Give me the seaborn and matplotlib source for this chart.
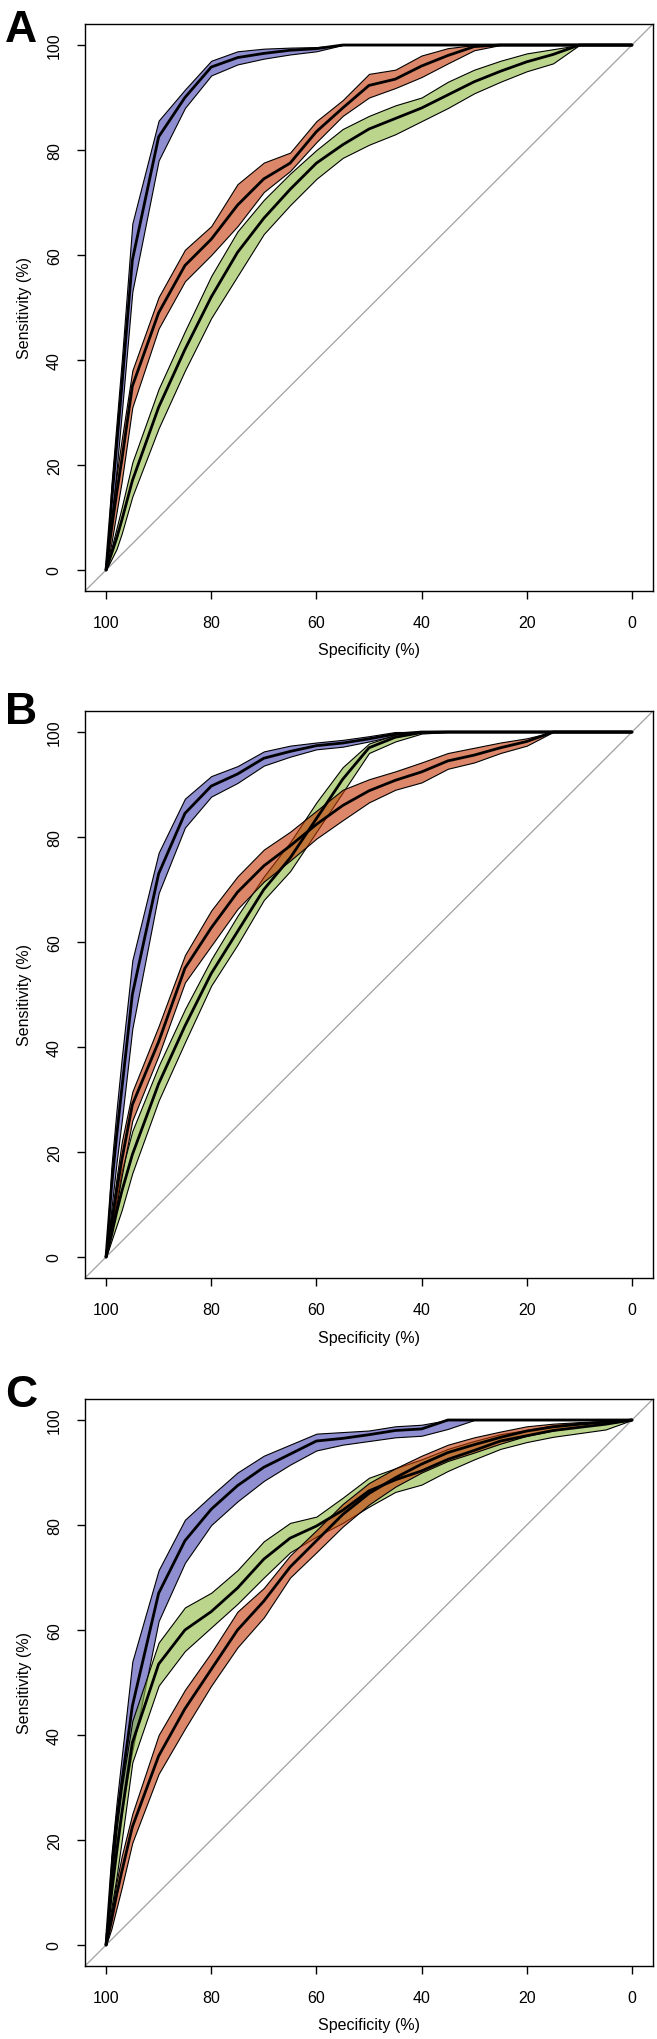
import matplotlib
matplotlib.use("Agg")
import matplotlib.pyplot as plt
import seaborn as sns

# specificity grid (%) used for the CI bands and the ROC curves
spec = [100, 99, 98, 97, 95, 90, 85, 80, 75, 70, 65, 60,
        55, 50, 45, 40, 35, 30, 25, 20, 15, 10, 5, 0]

# ---- panel A ----
a_blue_lo = [0, 9, 19, 30, 53, 78, 88, 94.2, 96.3, 97.4, 98.2, 98.8,
             100, 100, 100, 100, 100, 100, 100, 100, 100, 100, 100, 100]
a_blue_hi = [0, 16, 28, 40, 66, 85.6, 91.5, 97, 98.8, 99.3, 99.5, 99.6,
             100, 100, 100, 100, 100, 100, 100, 100, 100, 100, 100, 100]
a_blue_roc = [0, 12.5, 23.5, 35, 59, 82.5, 90, 95.8, 97.6, 98.4, 99, 99.3,
              100, 100, 100, 100, 100, 100, 100, 100, 100, 100, 100, 100]

a_orange_lo = [0, 5, 11, 17, 31, 46, 55, 60, 65.5, 72, 76, 81.5,
               86.5, 90, 91.8, 93.9, 96.5, 99, 100, 100, 100, 100, 100, 100]
a_orange_hi = [0, 10, 18, 25, 38, 52, 61, 65.5, 73.5, 77.6, 79.5, 85.5,
               89.5, 94.5, 95.3, 98, 99.4, 100, 100, 100, 100, 100, 100, 100]
a_orange_roc = [0, 7.5, 14.5, 21, 35, 49, 58, 63, 69.5, 74.5, 77.5, 83.5,
                88, 92.3, 93.5, 96, 98, 99.7, 100, 100, 100, 100, 100, 100]

a_green_lo = [0, 2, 4, 7, 14, 27, 38, 48, 56, 64, 69.5, 74.5,
              78.5, 81, 83, 85.5, 88, 90.8, 93, 95, 96.5, 100, 100, 100]
a_green_hi = [0, 4, 8, 12, 20.5, 34.5, 45.5, 56, 64.5, 70.5, 75.5, 80,
              84, 86.5, 88.5, 90, 93, 95.3, 97, 98.4, 99.2, 100, 100, 100]
a_green_roc = [0, 3, 6, 9.5, 17, 31, 42, 52, 60.5, 67, 72.5, 77.5,
               81, 84, 86, 88, 90.5, 93, 95, 96.8, 98.2, 100, 100, 100]

# ---- panel B ----
b_blue_lo = [0, 9, 18, 26, 43.5, 69.3, 81.8, 87.7, 90.3, 93.6, 95.3, 96.7,
             97.2, 98.2, 99.3, 100, 100, 100, 100, 100, 100, 100, 100, 100]
b_blue_hi = [0, 17, 28, 38, 56.5, 77, 87.3, 91.6, 93.5, 96.3, 97.4, 98,
             98.5, 99.2, 100, 100, 100, 100, 100, 100, 100, 100, 100, 100]
b_blue_roc = [0, 13, 23, 32, 50, 73, 84.5, 89.7, 92, 95, 96.3, 97.4,
              97.9, 98.7, 99.6, 100, 100, 100, 100, 100, 100, 100, 100, 100]

b_orange_lo = [0, 5, 10, 15.5, 26, 38.4, 52.3, 59.3, 66.3, 71.5, 75.5, 79.7,
               83.2, 86.6, 89, 90.4, 93, 94.2, 96, 97.4, 100, 100, 100, 100]
b_orange_hi = [0, 7.5, 15, 22, 31.5, 44, 57.5, 66, 72.5, 77.6, 81, 85,
               89, 91, 92.5, 94.2, 96, 97, 98, 98.8, 100, 100, 100, 100]
b_orange_roc = [0, 6, 12.5, 18.5, 29, 41, 55, 62.7, 69.5, 74.5, 78.3, 82.4,
                86, 88.8, 90.8, 92.4, 94.5, 95.6, 97, 98.2, 100, 100, 100, 100]

b_green_lo = [0, 3, 6, 9, 16, 29.8, 40.9, 51.7, 59.5, 68, 73.5, 81,
              88.5, 96, 98.2, 99.7, 100, 100, 100, 100, 100, 100, 100, 100]
b_green_hi = [0, 5.5, 11, 16.5, 24, 36.4, 47.2, 56.7, 65, 72.5, 79, 86.6,
              93.3, 97.8, 99.5, 100, 100, 100, 100, 100, 100, 100, 100, 100]
b_green_roc = [0, 4, 8.5, 12.5, 19.5, 33, 44, 54, 62, 70, 76, 83.5,
               91, 97, 99, 99.9, 100, 100, 100, 100, 100, 100, 100, 100]

# ---- panel C ----
c_blue_lo = [0, 10, 20, 26, 37, 61.7, 72.8, 80, 84.5, 88.4, 91.5, 94.2,
             95.3, 96, 96.7, 97, 98.3, 100, 100, 100, 100, 100, 100, 100]
c_blue_hi = [0, 17, 27, 36, 54, 71.4, 81, 85.6, 90, 93.2, 95.3, 97.4,
             97.7, 98, 98.8, 99.1, 100, 100, 100, 100, 100, 100, 100, 100]
c_blue_roc = [0, 13.5, 23.5, 31, 45.5, 67, 77, 83, 87.5, 91, 93.5, 96,
              96.5, 97.2, 98, 98.3, 100, 100, 100, 100, 100, 100, 100, 100]

c_orange_lo = [0, 3, 7, 11, 19.5, 32.6, 41.2, 49.4, 56.7, 62.4, 70, 74.8,
               79.7, 83.9, 87.3, 90, 92.2, 93.8, 95.5, 97, 98, 98.8, 99.3, 100]
c_orange_hi = [0, 6, 12, 17, 25, 40, 48.6, 55.7, 63.5, 68, 74.2, 79,
               84, 88, 90.8, 93.2, 95.3, 96.7, 97.8, 98.8, 99.3, 99.6, 99.8, 100]
c_orange_roc = [0, 4.5, 9.5, 14, 22.5, 36, 45, 52.5, 60, 65.5, 72, 77,
                82, 86, 89, 91.6, 93.8, 95.3, 96.7, 97.9, 98.7, 99.2, 99.6, 100]

c_green_lo = [0, 7, 13, 20, 34.8, 49.4, 56, 60.5, 65, 70, 74.8, 77.8,
              80.4, 83.5, 86.3, 87.7, 90.3, 92.5, 94.5, 95.8, 96.8, 97.5, 98.2, 100]
c_green_hi = [0, 12, 22, 30, 42.7, 57.6, 64.3, 67.1, 71.4, 76.9, 80.4, 81.6,
              85.2, 89, 90.8, 92.5, 94.5, 96, 97.3, 98.1, 99, 99.5, 99.8, 100]
c_green_roc = [0, 9.5, 17.5, 25, 38.5, 53.5, 60, 63.5, 68, 73.5, 77.5, 79.8,
               82.8, 86.5, 88.6, 90.3, 92.5, 94.2, 96, 97, 98, 98.6, 99.2, 100]

# semi transparent fills
blue = (67 / 255, 67 / 255, 177 / 255, 0.6)
orange = (197 / 255, 55 / 255, 5 / 255, 0.6)
green = (143 / 255, 188 / 255, 63 / 255, 0.6)

sns.set_theme(style="ticks")
plt.rcParams['font.family'] = ['Liberation Sans', 'DejaVu Sans']

fig = plt.figure(figsize=(6.57, 20.40), dpi=100)
W, H = 657, 2040

panels = [
    ("A", 25, 10, [(a_blue_lo, a_blue_hi, a_blue_roc, blue),
                   (a_green_lo, a_green_hi, a_green_roc, green),
                   (a_orange_lo, a_orange_hi, a_orange_roc, orange)]),
    ("B", 712, 692, [(b_blue_lo, b_blue_hi, b_blue_roc, blue),
                     (b_green_lo, b_green_hi, b_green_roc, green),
                     (b_orange_lo, b_orange_hi, b_orange_roc, orange)]),
    ("C", 1400, 1375, [(c_blue_lo, c_blue_hi, c_blue_roc, blue),
                       (c_green_lo, c_green_hi, c_green_roc, green),
                       (c_orange_lo, c_orange_hi, c_orange_roc, orange)]),
]

for letter, top, letter_top, curves in panels:
    ax = fig.add_axes([85 / W, (H - top - 567) / H, 568 / W, 567 / H])

    # chance line
    ax.plot([104, -4], [-4, 104], color='#a0a0a0', linewidth=0.9, zorder=1)

    for lo, hi, roc, col in curves:
        ax.fill_between(spec, lo, hi, facecolor=col, edgecolor='black',
                        linewidth=0.8, zorder=2)
        sns.lineplot(x=spec, y=roc, ax=ax, color='black', linewidth=2.0,
                     estimator=None, sort=False, zorder=3)

    ax.set_xlim(104, -4)
    ax.set_ylim(-4, 104)
    ax.set_xticks([100, 80, 60, 40, 20, 0])
    ax.set_yticks([0, 20, 40, 60, 80, 100])
    ax.tick_params(direction='out', length=6, width=1, color='black',
                   labelcolor='black', labelsize=11.5, bottom=True, left=True)
    ax.tick_params(axis='x', pad=11.5)
    ax.tick_params(axis='y', pad=10.7, labelrotation=90)
    for lab in ax.get_yticklabels():
        lab.set_va('center')
    for s in ax.spines.values():
        s.set_color('black')
        s.set_linewidth(1.0)

    ax.set_xlabel('Specificity (%)', fontsize=11.5, color='black')
    ax.xaxis.label.set_va('center')
    ax.xaxis.set_label_coords(0.5, -59 / 567)
    ax.set_ylabel('Sensitivity (%)', fontsize=11.5, color='black')
    ax.yaxis.label.set_va('center')
    ax.yaxis.set_label_coords(-60 / 568, 0.5)

    fig.text(5 / W, 1 - letter_top / H, letter, fontsize=32, fontweight='bold',
             ha='left', va='top', color='black')

fig.savefig("out.png", dpi=100)
